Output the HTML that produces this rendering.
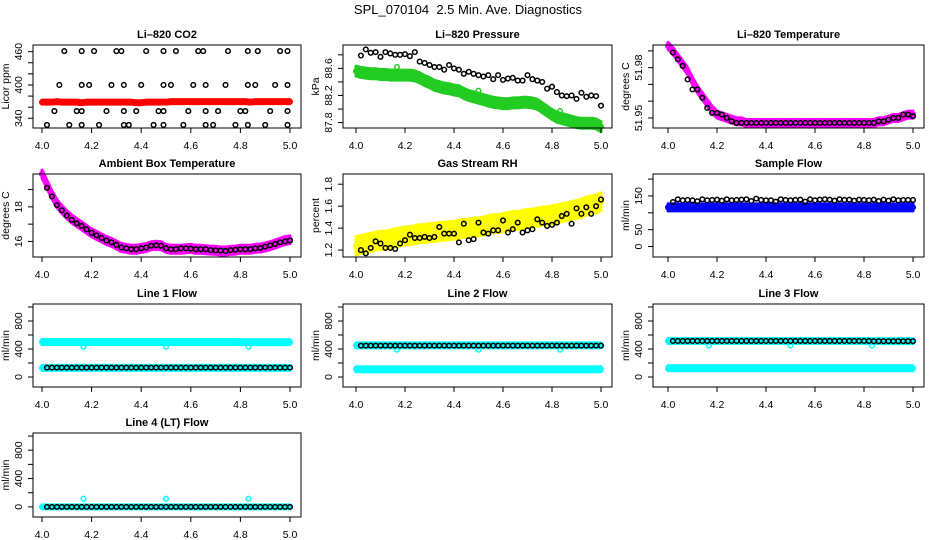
<!DOCTYPE html>
<html><head><meta charset="utf-8"><style>
html,body{margin:0;padding:0;background:#fff}
svg{display:block;font-family:"Liberation Sans",sans-serif}
</style></head><body>
<svg id="c" width="936" height="540" viewBox="0 0 936 540">
<text x="468" y="14" text-anchor="middle" font-size="13" style="white-space:pre" xml:space="preserve">SPL_070104  2.5 Min. Ave. Diagnostics</text>
</svg>
<script>
const t=[4.00,4.02,4.04,4.06,4.08,4.10,4.12,4.14,4.16,4.18,4.20,4.22,4.24,4.26,4.28,4.30,4.32,4.34,4.36,4.38,4.40,4.42,4.44,4.46,4.48,4.50,4.52,4.54,4.56,4.58,4.60,4.62,4.64,4.66,4.68,4.70,4.72,4.74,4.76,4.78,4.80,4.82,4.84,4.86,4.88,4.90,4.92,4.94,4.96,4.98,5.00];
const tB=[4.02,4.04,4.06,4.08,4.10,4.12,4.14,4.16,4.18,4.20,4.22,4.24,4.26,4.28,4.30,4.32,4.34,4.36,4.38,4.40,4.42,4.44,4.46,4.48,4.50,4.52,4.54,4.56,4.58,4.60,4.62,4.64,4.66,4.68,4.70,4.72,4.74,4.76,4.78,4.80,4.82,4.84,4.86,4.88,4.90,4.92,4.94,4.96,4.98,5.00];
const xTicks=[4.0,4.2,4.4,4.6,4.8,5.0];
const xTickLabels=["4.0","4.2","4.4","4.6","4.8","5.0"];
const outT=[4.167,4.5,4.833];

const co2T=[4.02,4.05,4.07,4.09,4.11,4.14,4.16,4.16,4.16,4.16,4.19,4.21,4.23,4.26,4.28,4.30,4.32,4.33,4.33,4.33,4.35,4.38,4.40,4.42,4.45,4.47,4.49,4.49,4.49,4.49,4.52,4.54,4.57,4.59,4.61,4.63,4.65,4.66,4.66,4.66,4.69,4.71,4.74,4.75,4.78,4.80,4.82,4.83,4.83,4.83,4.86,4.87,4.90,4.92,4.94,4.96,4.99,4.99,4.99,4.99];
const co2Black=[328,353,400,461,328,353,461,400,353,328,400,461,328,353,400,461,461,400,353,328,328,353,400,461,328,353,461,400,353,328,400,461,328,353,400,461,461,400,353,328,328,353,400,461,328,353,353,461,400,328,400,461,328,353,400,461,461,400,353,328];
const co2Red=[369,369,369,370,369,369,369,369,368,369,369,369,369,369,369,369,369,369,369,368,368,369,369,369,369,369,370,370,370,370,370,370,370,370,370,370,370,370,370,370,370,370,369,370,370,370,370,370,370,370,370];

const presGreen=[88.56,88.54,88.53,88.52,88.52,88.51,88.51,88.50,88.50,88.50,88.50,88.50,88.49,88.46,88.42,88.39,88.35,88.33,88.31,88.30,88.28,88.27,88.23,88.20,88.18,88.16,88.14,88.12,88.10,88.09,88.08,88.08,88.09,88.09,88.10,88.10,88.09,88.07,88.02,87.97,87.92,87.88,87.86,87.84,87.82,87.80,87.79,87.79,87.79,87.78,87.74];
const presBlack=[88.79,88.88,88.83,88.84,88.77,88.84,88.82,88.80,88.80,88.81,88.78,88.84,88.70,88.68,88.65,88.62,88.62,88.58,88.65,88.60,88.58,88.52,88.55,88.52,88.50,88.48,88.50,88.44,88.50,88.43,88.45,88.46,88.42,88.42,88.50,88.44,88.42,88.40,88.30,88.33,88.25,88.20,88.19,88.20,88.15,88.24,88.18,88.20,88.19,88.05];
const presOut=[88.62,88.27,87.97];

const licTMag=[51.993,51.990,51.986,51.982,51.978,51.972,51.967,51.963,51.959,51.955,51.952,51.951,51.950,51.949,51.948,51.948,51.947,51.947,51.947,51.947,51.947,51.947,51.947,51.947,51.947,51.947,51.947,51.947,51.947,51.947,51.947,51.947,51.947,51.947,51.947,51.947,51.947,51.947,51.947,51.947,51.947,51.947,51.947,51.948,51.948,51.949,51.950,51.950,51.951,51.952,51.952];
const licTBlack=[51.989,51.985,51.981,51.973,51.967,51.967,51.962,51.956,51.953,51.953,51.952,51.950,51.948,51.947,51.947,51.947,51.947,51.947,51.947,51.947,51.947,51.947,51.947,51.947,51.947,51.947,51.947,51.947,51.947,51.947,51.947,51.947,51.947,51.947,51.947,51.947,51.947,51.947,51.947,51.947,51.947,51.947,51.948,51.948,51.949,51.950,51.950,51.952,51.952,51.951];

const ambMag=[19.9,19.3,18.7,18.2,17.85,17.55,17.3,17.1,16.9,16.7,16.5,16.35,16.2,16.05,15.95,15.8,15.65,15.6,15.55,15.55,15.6,15.65,15.75,15.78,15.75,15.6,15.55,15.55,15.55,15.58,15.6,15.55,15.55,15.52,15.5,15.48,15.45,15.45,15.48,15.5,15.55,15.55,15.55,15.6,15.62,15.68,15.75,15.85,15.95,16.05,16.1];
const ambBlack=[19.1,18.6,18.1,17.8,17.5,17.25,17.05,16.9,16.7,16.5,16.35,16.2,16.05,15.95,15.8,15.65,15.6,15.55,15.55,15.6,15.65,15.75,15.78,15.75,15.6,15.55,15.55,15.6,15.6,15.58,15.55,15.55,15.55,15.5,15.48,15.47,15.45,15.5,15.52,15.55,15.55,15.55,15.6,15.62,15.7,15.78,15.85,15.95,16.0,16.05];

const rhYellow=[1.24,1.25,1.26,1.27,1.28,1.29,1.29,1.30,1.31,1.32,1.33,1.33,1.34,1.35,1.35,1.36,1.36,1.37,1.37,1.38,1.38,1.39,1.40,1.40,1.41,1.41,1.42,1.43,1.44,1.44,1.45,1.46,1.47,1.47,1.48,1.49,1.49,1.50,1.51,1.51,1.52,1.53,1.54,1.55,1.56,1.57,1.58,1.60,1.61,1.62,1.64];
const rhBlack=[1.20,1.17,1.22,1.28,1.26,1.22,1.22,1.21,1.26,1.29,1.34,1.31,1.31,1.32,1.31,1.32,1.41,1.35,1.35,1.35,1.27,1.44,1.29,1.30,1.45,1.36,1.35,1.38,1.38,1.47,1.36,1.39,1.45,1.36,1.38,1.39,1.48,1.45,1.42,1.43,1.45,1.51,1.53,1.44,1.58,1.53,1.59,1.53,1.60,1.66];

const sfBlue=[116,116,116,116,116,116,116,116,116,116,116,116,116,116,116,116,116,116,116,116,116,116,116,116,116,116,116,116,116,116,116,116,116,116,116,116,116,116,116,116,116,116,116,116,116,116,116,116,116,116,116];
const sfBlack=[132,140,137,138,137,134,140,137,138,139,136,140,137,138,139,140,135,142,138,137,137,133,140,138,137,138,139,133,140,137,139,140,139,136,140,138,139,136,139,138,137,139,135,139,136,140,137,138,138,138];

const l1Up=[500,500,500,500,500,500,500,500,500,500,500,500,500,500,500,500,500,500,500,500,500,500,500,500,500,500,500,500,500,500,500,500,500,500,500,500,500,500,500,500,498,498,498,498,498,498,498,498,498,498,498];
const l1Low=[130,130,130,130,130,130,130,130,130,130,130,130,130,130,130,130,130,130,130,130,130,130,130,130,130,130,130,130,130,130,130,130,130,130,130,130,130,130,130,130,130,130,130,130,130,130,130,130,130,130,130];
const l1Black=[134,134,134,134,134,134,134,134,134,134,134,134,134,134,134,134,134,134,134,134,134,134,134,134,134,134,134,134,134,134,134,134,134,134,134,134,134,134,134,134,134,134,134,134,134,134,134,134,134,134];
const l1Out=[430,430,430];

const l2Up=[452,452,452,452,452,452,452,452,452,452,452,452,452,452,452,452,452,452,452,452,452,452,452,452,452,452,452,452,452,452,452,452,452,452,452,452,452,452,452,452,452,452,452,452,452,452,452,452,452,452,452];
const l2Low=[110,110,110,110,110,110,110,110,110,110,110,110,110,110,110,110,110,110,110,110,110,110,110,110,110,110,110,110,110,110,110,110,110,110,110,110,110,110,110,110,110,110,110,110,110,110,110,110,110,110,110];
const l2Black=[448,448,448,448,448,448,448,448,448,448,448,448,448,448,448,448,448,448,448,448,448,448,448,448,448,448,448,448,448,448,448,448,448,448,448,448,448,448,448,448,448,448,448,448,448,448,448,448,448,448];
const l2Out=[390,390,390];

const l3Up=[515,515,515,515,515,515,515,515,515,515,515,515,515,515,515,515,515,515,515,515,515,515,515,515,515,515,515,515,515,515,515,515,515,515,515,515,515,515,515,515,515,512,512,512,512,512,512,512,512,512,512];
const l3Low=[125,125,125,125,125,125,125,125,125,125,125,125,125,125,125,125,125,125,125,125,125,125,125,125,125,125,125,125,125,125,125,125,125,125,125,125,125,125,125,125,125,125,125,125,125,125,125,125,125,125,125];
const l3Black=[515,515,515,515,515,515,515,515,515,515,515,515,515,515,515,515,515,515,515,515,515,515,515,515,515,515,515,515,515,515,515,515,515,515,515,515,515,515,515,515,515,512,512,512,512,512,512,512,512,512];
const l3Out=[450,450,450];

const l4Cyan=[0,0,0,0,0,0,0,0,0,0,0,0,0,0,0,0,0,0,0,0,0,0,0,0,0,0,0,0,0,0,0,0,0,0,0,0,0,0,0,0,0,0,0,0,0,0,0,0,0,0,0];
const l4Black=[0,0,0,0,0,0,0,0,0,0,0,0,0,0,0,0,0,0,0,0,0,0,0,0,0,0,0,0,0,0,0,0,0,0,0,0,0,0,0,0,0,0,0,0,0,0,0,0,0,0];
const l4Out=[115,115,115];

const flowTicks=[0,200,400,600,800,1000];
const flowLabels=["0","","400","","800",""];

const NS="http://www.w3.org/2000/svg";
const svg=document.getElementById('c');
function mk(tag,attrs,parent){const e=document.createElementNS(NS,tag);for(const k in attrs)e.setAttribute(k,attrs[k]);(parent||svg).appendChild(e);return e;}

const colL=[33,343,653],colR=[301,612,924],x40=[42,356,668],x50=[290,601,913];
const rowT=[45,174,304,433],rowB=[128,257,387,517];

function panel(p){
  const g=mk('g',{});
  
  
  const L=colL[p.c],R=colR[p.c],T=rowT[p.r],B=rowB[p.r];
  const sx=v=>x40[p.c]+(v-4)*(x50[p.c]-x40[p.c]);
  const sy=v=>B-(v-p.y0)/(p.y1-p.y0)*(B-T);
  const plot=mk('g',{},g);
  
  
  p.series.forEach(s=>{
    const sg=mk('g',{},plot);
    
    
    if(s.band){
      let up=s.x.map((xv,i)=>sx(xv)+','+(sy(s.y[i])-s.band)).join(' ');
      let dn=s.x.map((xv,i)=>sx(xv)+','+(sy(s.y[i])+s.band)).reverse().join(' ');
      const pg=mk('polygon',{points:up+' '+dn,fill:s.col,stroke:s.col,'stroke-width':3,'stroke-linejoin':'round'},sg);
      
      
    }
    s.y.forEach((v,i)=>{
      const c=mk('circle',{cx:sx(s.x[i]),cy:sy(v),r:s.r||2.3,fill:'none',stroke:s.col,'stroke-width':s.sw||1.5},sg);
      
      
    });
  });
  const box=mk('rect',{x:L,y:T,width:R-L,height:B-T,fill:'none',stroke:'#000','stroke-width':1},g);
  
  
  const xa=mk('g',{},g);
  
  
  xTicks.forEach((v,i)=>{
    mk('line',{x1:sx(v),x2:sx(v),y1:B,y2:B+5,stroke:'#000'},xa);
    const tx=mk('text',{x:sx(v),y:B+21,'text-anchor':'middle','font-size':10.5},xa);
    tx.textContent=xTickLabels[i];
    
    
  });
  const ya=mk('g',{},g);
  
  
  p.yt.forEach((v,i)=>{
    mk('line',{x1:L,x2:L-5,y1:sy(v),y2:sy(v),stroke:'#000'},ya);
    if(p.yl[i]){
      const tx=mk('text',{x:L-11,y:sy(v),'text-anchor':'middle','font-size':10.5,transform:`rotate(-90 ${L-11} ${sy(v)})`},ya);
      tx.textContent=p.yl[i];
      
      
    }
  });
  const yt=mk('text',{x:L-24,y:(T+B)/2,'text-anchor':'middle','font-size':10.5,transform:`rotate(-90 ${L-24} ${(T+B)/2})`},g);
  yt.textContent=p.ylab;
  
  
  const tt=mk('text',{x:(L+R)/2,y:T-7,'text-anchor':'middle','font-size':11,'font-weight':'bold'},g);
  tt.textContent=p.title;
  
  
}

const CY='#00ffff';
panel({name:'co2-panel',title:'Li–820 CO2',ylab:'Licor ppm',r:0,c:0,y0:322.5,y1:472,yt:[340,360,380,400,420,440,460],yl:['340','','','400','','','460'],
 series:[{name:'co2-licor-avg',x:t,y:co2Red,col:'#ff0000',band:2},{name:'co2-black',x:co2T,y:co2Black,col:'#000'}]});
panel({name:'pressure-panel',title:'Li–820 Pressure',ylab:'kPa',r:0,c:1,y0:87.72,y1:88.945,yt:[87.8,88.0,88.2,88.4,88.6,88.8],yl:['87.8','','88.2','','88.6',''],
 series:[{name:'pressure-green',x:t,y:presGreen,col:'#22cc22',band:5},{name:'pressure-green-outliers',x:outT,y:presOut,col:'#22cc22'},{name:'pressure-black',x:tB,y:presBlack,col:'#000'}]});
panel({name:'licor-temp-panel',title:'Li–820 Temperature',ylab:'degrees C',r:0,c:2,y0:51.944,y1:51.9935,yt:[51.95,51.96,51.97,51.98,51.99],yl:['51.95','','','51.98',''],
 series:[{name:'licor-temp-magenta',x:t,y:licTMag,col:'#ff00ff',band:3.5},{name:'licor-temp-black',x:tB,y:licTBlack,col:'#000'}]});
panel({name:'ambient-temp-panel',title:'Ambient Box Temperature',ylab:'degrees C',r:1,c:0,y0:15.1,y1:19.9,yt:[16,17,18,19],yl:['16','','18',''],
 series:[{name:'ambient-magenta',x:t,y:ambMag,col:'#ff00ff',band:4},{name:'ambient-black',x:tB,y:ambBlack,col:'#000'}]});
panel({name:'rh-panel',title:'Gas Stream RH',ylab:'percent',r:1,c:1,y0:1.137,y1:1.893,yt:[1.2,1.4,1.6,1.8],yl:['1.2','1.4','1.6','1.8'],
 series:[{name:'rh-yellow',x:t,y:rhYellow,col:'#ffff00',band:9},{name:'rh-black',x:tB,y:rhBlack,col:'#000'}]});
panel({name:'sample-flow-panel',title:'Sample Flow',ylab:'ml/min',r:1,c:2,y0:-31,y1:215,yt:[0,50,100,150,200],yl:['0','50','','150',''],
 series:[{name:'sample-flow-blue',x:t,y:sfBlue,col:'#0000ff',band:3.5},{name:'sample-flow-black',x:tB,y:sfBlack,col:'#000'}]});
panel({name:'line1-panel',title:'Line 1 Flow',ylab:'ml/min',r:2,c:0,y0:-143,y1:1043,yt:flowTicks,yl:flowLabels,
 series:[{name:'line1-cyan-upper',x:t,y:l1Up,col:CY,band:2.5},{name:'line1-cyan-lower',x:t,y:l1Low,col:CY,band:2.5},{name:'line1-outliers',x:outT,y:l1Out,col:CY},{name:'line1-black',x:tB,y:l1Black,col:'#000'}]});
panel({name:'line2-panel',title:'Line 2 Flow',ylab:'ml/min',r:2,c:1,y0:-143,y1:1043,yt:flowTicks,yl:flowLabels,
 series:[{name:'line2-cyan-upper',x:t,y:l2Up,col:CY,band:2.5},{name:'line2-cyan-lower',x:t,y:l2Low,col:CY,band:2.5},{name:'line2-outliers',x:outT,y:l2Out,col:CY},{name:'line2-black',x:tB,y:l2Black,col:'#000'}]});
panel({name:'line3-panel',title:'Line 3 Flow',ylab:'ml/min',r:2,c:2,y0:-143,y1:1043,yt:flowTicks,yl:flowLabels,
 series:[{name:'line3-cyan-upper',x:t,y:l3Up,col:CY,band:2.5},{name:'line3-cyan-lower',x:t,y:l3Low,col:CY,band:2.5},{name:'line3-outliers',x:outT,y:l3Out,col:CY},{name:'line3-black',x:tB,y:l3Black,col:'#000'}]});
panel({name:'line4-panel',title:'Line 4 (LT) Flow',ylab:'ml/min',r:3,c:0,y0:-143,y1:1043,yt:flowTicks,yl:flowLabels,
 series:[{name:'line4-cyan',x:t,y:l4Cyan,col:CY,band:2},{name:'line4-outliers',x:outT,y:l4Out,col:CY},{name:'line4-black',x:tB,y:l4Black,col:'#000'}]});
</script>
</body></html>
